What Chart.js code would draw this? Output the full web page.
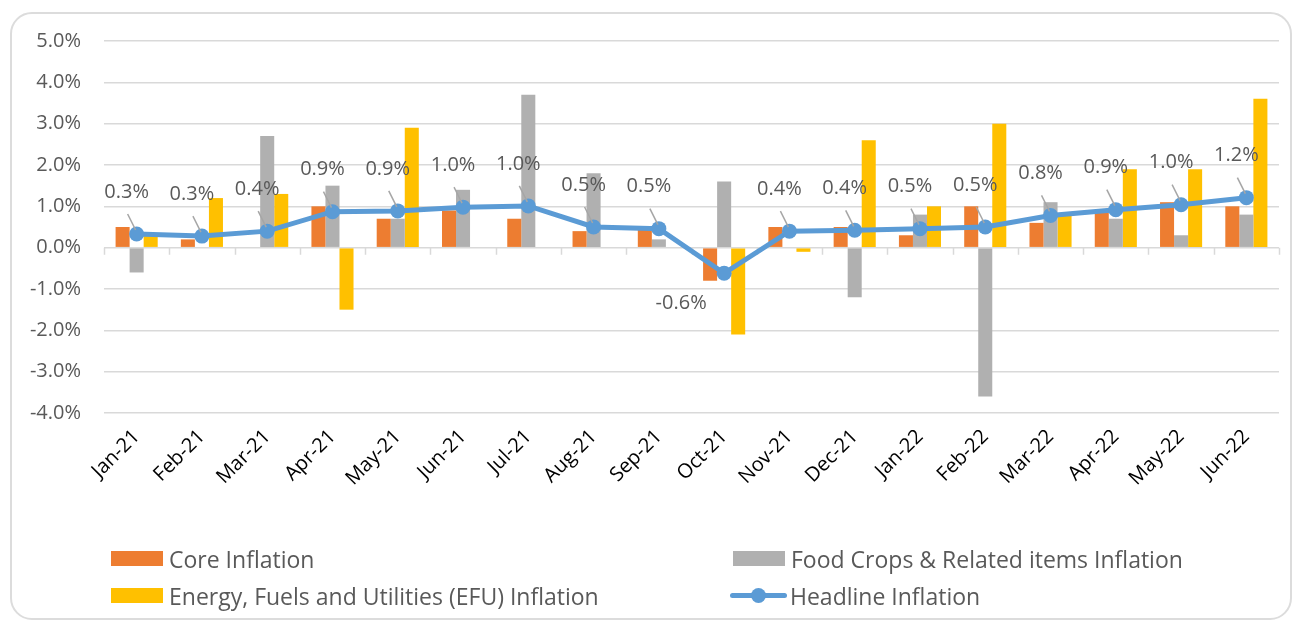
<!DOCTYPE html>
<html lang="en">

<head>
    <meta charset="UTF-8" />
    <title>Inflation Components</title>
    <script src="https://cdn.jsdelivr.net/npm/chart.js"></script>
    <style>
        * {
            margin: 0;
            padding: 0;
            box-sizing: border-box;
        }

        body {
            width: 1294px;
            height: 621px;
            background: #ffffff;
            font-family: "Open Sans", Arial, sans-serif;
            position: relative;
            overflow: hidden;
        }

        .frame {
            position: absolute;
            left: 10px;
            top: 12px;
            width: 1282px;
            height: 608px;
            border: 2px solid #dcdcdc;
            border-radius: 22px;
        }

        .chart-box {
            position: absolute;
            left: 0;
            top: 0;
            width: 1294px;
            height: 621px;
        }

        .legend {
            position: absolute;
            left: 111px;
            top: 544px;
            display: grid;
            grid-template-columns: 622px 520px;
            row-gap: 8px;
            color: #595959;
            font-size: 23px;
        }

        .legend .item {
            display: flex;
            align-items: center;
            height: 29px;
        }

        .legend .swatch {
            width: 52px;
            height: 15px;
            margin-right: 6px;
        }

        .legend .lineswatch {
            position: relative;
            width: 57px;
            height: 15px;
            margin-right: 3px;
            margin-left: -3px;
        }

        .legend .lineswatch::before {
            content: "";
            position: absolute;
            left: 0;
            right: 0;
            top: 5px;
            height: 5px;
            border-radius: 3px;
            background: var(--c);
        }

        .legend .lineswatch::after {
            content: "";
            position: absolute;
            left: 21px;
            top: 0;
            width: 15px;
            height: 15px;
            border-radius: 50%;
            background: var(--c);
        }
    </style>
</head>

<body>
    <div class="frame"></div>
    <div class="chart-box">
        <canvas id="inflationChart" width="1294" height="621"></canvas>
    </div>
    <div class="legend" id="legend"></div>

    <script>
        const months = ["Jan-21", "Feb-21", "Mar-21", "Apr-21", "May-21", "Jun-21", "Jul-21", "Aug-21", "Sep-21",
            "Oct-21", "Nov-21", "Dec-21", "Jan-22", "Feb-22", "Mar-22", "Apr-22", "May-22", "Jun-22"];
        const coreInflation = [0.5, 0.2, 0.0, 1.0, 0.7, 0.9, 0.7, 0.4, 0.5, -0.8, 0.5, 0.5, 0.3, 1.0, 0.6, 0.9, 1.1, 1.0];
        const foodInflation = [-0.6, 0.0, 2.7, 1.5, 0.7, 1.4, 3.7, 1.8, 0.2, 1.6, 0.0, -1.2, 0.8, -3.6, 1.1, 0.7, 0.3, 0.8];
        const efuInflation = [0.3, 1.2, 1.3, -1.5, 2.9, 0.0, 0.0, 0.0, 0.0, -2.1, -0.1, 2.6, 1.0, 3.0, 0.8, 1.9, 1.9, 3.6];
        const headlineInflation = [0.33, 0.28, 0.40, 0.87, 0.89, 0.98, 1.01, 0.50, 0.46, -0.62, 0.40, 0.42, 0.46, 0.50, 0.78, 0.92, 1.04, 1.21];
        const yTicks = [-4, -3, -2, -1, 0, 1, 2, 3, 4, 5];

        const gridColor = "#d9d9d9";
        const textGray = "#595959";
        const fontFamily = '"Open Sans", Arial, sans-serif';

        // small tick marks along the zero line, between categories
        const zeroTicksPlugin = {
            id: "zeroTicks",
            beforeDatasetsDraw(chart) {
                const { ctx, scales: { x, y } } = chart;
                const y0 = y.getPixelForValue(0);
                const step = x.width / months.length;
                ctx.save();
                ctx.strokeStyle = gridColor;
                ctx.lineWidth = 1.5;
                ctx.beginPath();
                for (let i = 0; i <= months.length; i++) {
                    const px = Math.round(x.left + i * step) + 0.5;
                    ctx.moveTo(px, y0);
                    ctx.lineTo(px, y0 + 7);
                }
                ctx.stroke();
                ctx.restore();
            }
        };

        // value labels above the headline markers, with leader lines
        const headlineLabelsPlugin = {
            id: "headlineLabels",
            afterDatasetsDraw(chart) {
                const { ctx } = chart;
                const idx = chart.data.datasets.findIndex(d => d.type === "line");
                const meta = chart.getDatasetMeta(idx);
                const data = chart.data.datasets[idx].data;
                ctx.save();
                ctx.font = `20px ${fontFamily}`;
                ctx.textAlign = "center";
                ctx.textBaseline = "middle";
                meta.data.forEach((pt, i) => {
                    const v = data[i];
                    const text = v.toFixed(1) + "%";
                    if (v < 0) {
                        ctx.fillStyle = textGray;
                        ctx.fillText(text, pt.x - 43, pt.y + 30);
                        return;
                    }
                    const lx = pt.x - 10;
                    const ly = pt.y - 42;
                    ctx.strokeStyle = "#a6a6a6";
                    ctx.lineWidth = 1.5;
                    ctx.beginPath();
                    ctx.moveTo(lx + 1, ly + 22);
                    ctx.lineTo(pt.x - 1, pt.y - 4);
                    ctx.stroke();
                    ctx.fillStyle = textGray;
                    ctx.fillText(text, lx, ly);
                });
                ctx.restore();
            }
        };

        const chart = new Chart(document.getElementById("inflationChart"), {
            type: "bar",
            data: {
                labels: months,
                datasets: [
                    {
                        label: "Core Inflation",
                        data: coreInflation,
                        backgroundColor: "#ED7D31",
                        order: 1
                    },
                    {
                        label: "Food Crops & Related items Inflation",
                        data: foodInflation,
                        backgroundColor: "#B0B0B0",
                        order: 1
                    },
                    {
                        label: "Energy, Fuels and Utilities (EFU) Inflation",
                        data: efuInflation,
                        backgroundColor: "#FFC000",
                        order: 1
                    },
                    {
                        type: "line",
                        label: "Headline Inflation",
                        data: headlineInflation,
                        borderColor: "#5B9BD5",
                        backgroundColor: "#5B9BD5",
                        borderWidth: 5,
                        pointRadius: 7.5,
                        pointBorderWidth: 0,
                        pointBackgroundColor: "#5B9BD5",
                        tension: 0,
                        order: 0
                    }
                ]
            },
            options: {
                responsive: false,
                animation: false,
                layout: {
                    padding: { left: 0, right: 15, top: 41, bottom: 108 }
                },
                datasets: {
                    bar: {
                        categoryPercentage: 0.645,
                        barPercentage: 1.0
                    }
                },
                scales: {
                    x: {
                        grid: { display: false, drawTicks: false },
                        border: { display: false },
                        ticks: {
                            color: "#000000",
                            font: { family: fontFamily, size: 20 },
                            minRotation: 45,
                            maxRotation: 45,
                            padding: 12,
                            autoSkip: false
                        },
                        afterFit(scale) {
                            scale.height = 100;
                        }
                    },
                    y: {
                        min: yTicks[0],
                        max: yTicks[yTicks.length - 1],
                        afterBuildTicks(scale) {
                            scale.ticks = yTicks.map(v => ({ value: v }));
                        },
                        grid: {
                            color: gridColor,
                            lineWidth: 1.5,
                            drawTicks: false
                        },
                        border: { display: false },
                        ticks: {
                            color: textGray,
                            font: { family: fontFamily, size: 20 },
                            padding: 23,
                            callback: v => v.toFixed(1) + "%"
                        },
                        afterFit(scale) {
                            scale.width = 104;
                        }
                    }
                },
                plugins: {
                    legend: { display: false },
                    tooltip: { enabled: false }
                }
            },
            plugins: [zeroTicksPlugin, headlineLabelsPlugin]
        });

        // html legend in two columns, built from the datasets
        const legendEl = document.getElementById("legend");
        chart.data.datasets.forEach(ds => {
            const item = document.createElement("div");
            item.className = "item";
            const sw = document.createElement("span");
            if (ds.type === "line") {
                sw.className = "lineswatch";
                sw.style.setProperty("--c", ds.borderColor);
            } else {
                sw.className = "swatch";
                sw.style.background = ds.backgroundColor;
            }
            item.appendChild(sw);
            item.appendChild(document.createTextNode(ds.label));
            legendEl.appendChild(item);
        });
    </script>

</body>

</html>
